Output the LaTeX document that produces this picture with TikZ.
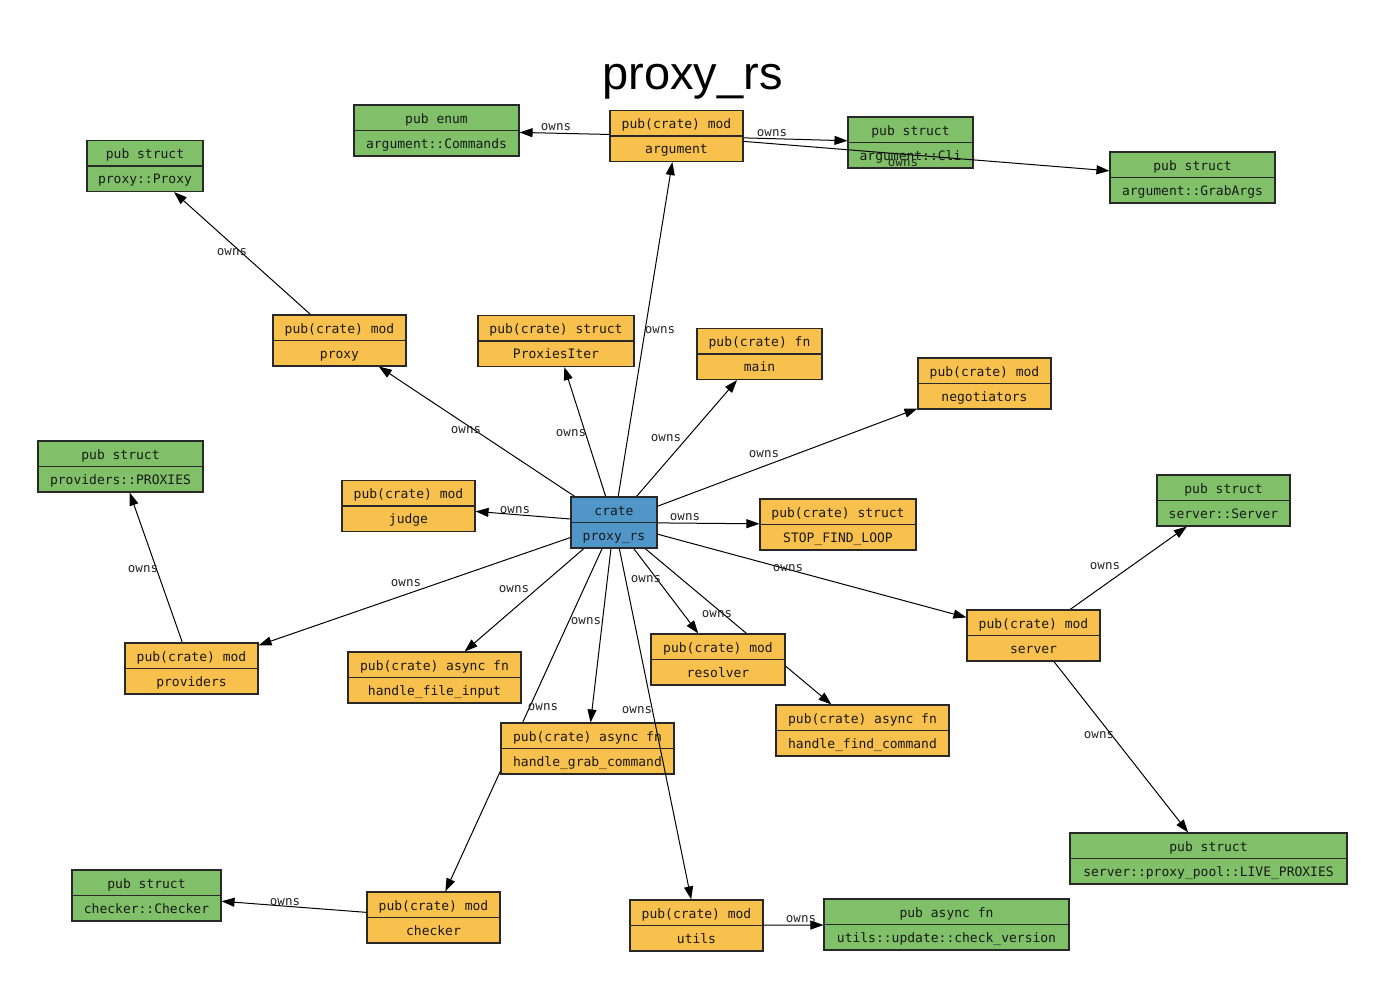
\documentclass[tikz,border=0pt]{standalone}
\usepackage{fontspec}
\setmainfont{Liberation Sans}
\newfontfamily\monof{DejaVu Sans Mono}
\usetikzlibrary{arrows.meta,backgrounds}
\definecolor{grn}{RGB}{127,192,104}
\definecolor{org}{RGB}{248,192,76}
\definecolor{blu}{RGB}{80,150,200}
\definecolor{bord}{RGB}{40,40,40}
\tikzset{
  box/.style={draw=bord, line width=1.1pt, minimum height=51pt, inner sep=0pt, rectangle},
  txt/.style={font=\monof\fontsize{13}{13}\selectfont, inner sep=0pt, anchor=base, text=black!90},
  conn/.style={draw=black, line width=1pt, -{Triangle[length=13pt,width=9pt]}},
  elbl/.style={font=\monof\fontsize{12.5}{13}\selectfont, inner sep=0pt, text=black!85}
}
\newcommand{\umlbox}[7]{%
  \node[box, fill=#2, minimum width=#5pt] (#1) at (#3,#4) {};
  \draw[bord, line width=1.1pt] (#1.west) -- (#1.east);
  \node[txt] at ([yshift=7.5pt]#1.center) {#6};
  \node[txt] at ([yshift=-17.5pt]#1.center) {#7};
}
\begin{document}
\begin{tikzpicture}[x=1pt,y=-1pt]
\useasboundingbox (0,0) rectangle (1386,990);
\begin{scope}[on background layer]
  \fill[white] (0,0) rectangle (1386,990);
\end{scope}

\node[font=\fontsize{47}{50}\selectfont, anchor=base, inner sep=0pt] (title) at (692.5,89) {proxy\_rs};

\umlbox{cmds}{grn}{436.5}{130.5}{165}{pub enum}{argument::Commands}
\umlbox{argument}{org}{676.5}{136}{133}{pub(crate) mod}{argument}
\umlbox{cli}{grn}{910.5}{142.5}{125}{pub struct}{argument::Cli}
\umlbox{grabargs}{grn}{1192.5}{177.5}{165}{pub struct}{argument::GrabArgs}
\umlbox{proxyProxy}{grn}{145}{166}{116}{pub struct}{proxy::Proxy}
\umlbox{proxy}{org}{339.5}{340.5}{133}{pub(crate) mod}{proxy}
\umlbox{proxiesiter}{org}{556}{341}{156}{pub(crate) struct}{ProxiesIter}
\umlbox{main}{org}{759.5}{354}{125}{pub(crate) fn}{main}
\umlbox{negotiators}{org}{984.5}{383.5}{133}{pub(crate) mod}{negotiators}
\umlbox{PROXIES}{grn}{120.5}{466.5}{165}{pub struct}{providers::PROXIES}
\umlbox{judge}{org}{408.5}{506}{133}{pub(crate) mod}{judge}
\umlbox{crate}{blu}{614}{522.5}{86}{crate}{proxy\_rs}
\umlbox{stop}{org}{838}{524.5}{156}{pub(crate) struct}{STOP\_FIND\_LOOP}
\umlbox{serverServer}{grn}{1223.5}{500.5}{133}{pub struct}{server::Server}
\umlbox{server}{org}{1033.5}{635.5}{133}{pub(crate) mod}{server}
\umlbox{providers}{org}{191.5}{668.5}{133}{pub(crate) mod}{providers}
\umlbox{hfi}{org}{434.5}{677.5}{173}{pub(crate) async fn}{handle\_file\_input}
\umlbox{resolver}{org}{718}{659.5}{134}{pub(crate) mod}{resolver}
\umlbox{hfc}{org}{862.5}{730.5}{173}{pub(crate) async fn}{handle\_find\_command}
\umlbox{hgc}{org}{587.5}{748.5}{173}{pub(crate) async fn}{handle\_grab\_command}
\umlbox{live}{grn}{1208.5}{858.5}{277}{pub struct}{server::proxy\_pool::LIVE\_PROXIES}
\umlbox{checkerChecker}{grn}{146.5}{895.5}{149}{pub struct}{checker::Checker}
\umlbox{checker}{org}{433.5}{917.5}{133}{pub(crate) mod}{checker}
\umlbox{utils}{org}{696.5}{925.5}{133}{pub(crate) mod}{utils}
\umlbox{checkver}{grn}{946.5}{924.5}{245}{pub async fn}{utils::update::check\_version}

\begin{scope}[on background layer]
  \draw[conn] (argument) -- (cmds);
  \draw[conn] (argument) -- (cli);
  \draw[conn] (crate) -- (argument);
  \draw[conn] (proxy) -- (proxyProxy);
  \draw[conn] (crate) -- (proxy);
  \draw[conn] (crate) -- (proxiesiter);
  \draw[conn] (crate) -- (main);
  \draw[conn] (crate) -- (negotiators);
  \draw[conn] (crate) -- (judge);
  \draw[conn] (crate) -- (stop);
  \draw[conn] (crate) -- (server);
  \draw[conn] (server) -- (serverServer);
  \draw[conn] (server) -- (live);
  \draw[conn] (crate) -- (providers);
  \draw[conn] (providers) -- (PROXIES);
  \draw[conn] (crate) -- (hfi);
  \draw[conn] (crate) -- (resolver);
  \draw[conn] (crate) -- (hfc);
  \draw[conn] (crate) -- (hgc);
  \draw[conn] (crate) -- (checker);
  \draw[conn] (checker) -- (checkerChecker);
  \draw[conn] (utils) -- (checkver);
\end{scope}
\draw[conn] (argument) -- (grabargs);
\draw[conn] (crate) -- (utils);

\node[elbl] (l1) at (556,127) {owns};
\node[elbl] (l2) at (772,133) {owns};
\node[elbl] (l3) at (903,163) {owns};
\node[elbl] (l4) at (660,330) {owns};
\node[elbl] (l5) at (232,252) {owns};
\node[elbl] (l6) at (466,430) {owns};
\node[elbl] (l7) at (571,433) {owns};
\node[elbl] (l8) at (666,438) {owns};
\node[elbl] (l9) at (764,454) {owns};
\node[elbl] (l10) at (515,510) {owns};
\node[elbl] (l11) at (685,517) {owns};
\node[elbl] (l12) at (788,568) {owns};
\node[elbl] (l13) at (1105,566) {owns};
\node[elbl] (l14) at (1099,735) {owns};
\node[elbl] (l15) at (406,583) {owns};
\node[elbl] (l16) at (143,569) {owns};
\node[elbl] (l17) at (514,589) {owns};
\node[elbl] (l18) at (646,579) {owns};
\node[elbl] (l19) at (717,614) {owns};
\node[elbl] (l20) at (586,621) {owns};
\node[elbl] (l21) at (543,707) {owns};
\node[elbl] (l22) at (637,710) {owns};
\node[elbl] (l23) at (285,902) {owns};
\node[elbl] (l24) at (801,919) {owns};
\end{tikzpicture}
\end{document}
